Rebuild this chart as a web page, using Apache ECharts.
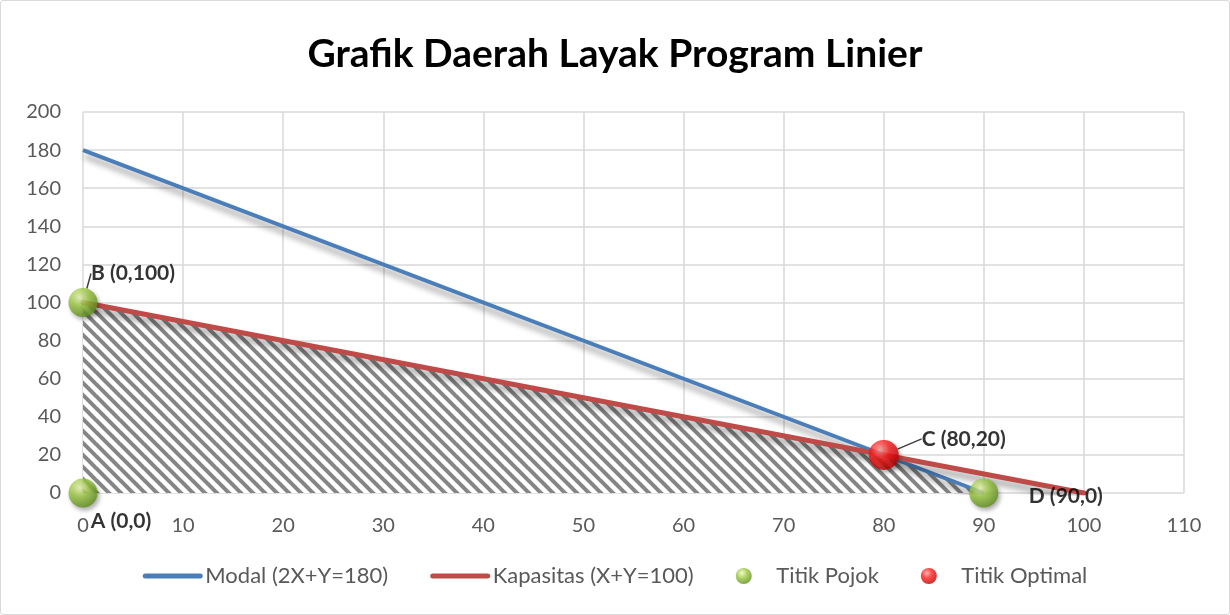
<!DOCTYPE html>
<html>
<head>
<meta charset="utf-8">
<script src="https://cdn.jsdelivr.net/npm/echarts@6/dist/echarts.min.js"></script>
<style>
  html, body { margin: 0; padding: 0; background: #fff; }
  #chart { width: 1228px; height: 613px; border: 1px solid #d9d9d9; border-radius: 3px; }
</style>
</head>
<body>
<div id="chart"></div>
<script>
// data
const modalLine = [[0, 180], [90, 0]];
const kapasitasLine = [[0, 100], [100, 0]];
const daerahLayak = [[0, 100], [80, 20], [90, 0]];
const titikPojok = [[0, 0], [0, 100], [90, 0]];
const pojokLabels = ["A (0,0)", "B (0,100)", "D (90,0)"];
const pojokLeader = [false, true, false];
const titikOptimal = [[80, 20]];
const optimalLabels = ["C (80,20)"];

const font = "Lato, 'Open Sans', sans-serif";

// hatch pattern for the feasible area
function hatch() {
  const s = 12;
  const c = document.createElement("canvas");
  c.width = s; c.height = s;
  const ctx = c.getContext("2d");
  ctx.fillStyle = "#ffffff";
  ctx.fillRect(0, 0, s, s);
  ctx.strokeStyle = "#858585";
  ctx.lineWidth = 4;
  for (let k = -1; k <= 1; k++) {
    ctx.beginPath();
    ctx.moveTo(k * s - 2, -2);
    ctx.lineTo(k * s + s + 2, s + 2);
    ctx.stroke();
  }
  return c;
}

function sphere(light, mid, dark) {
  return new echarts.graphic.RadialGradient(0.38, 0.32, 0.7, [
    { offset: 0, color: light },
    { offset: 0.45, color: mid },
    { offset: 1, color: dark }
  ]);
}

const greenBall = sphere("#eefab8", "#9cc842", "#5f8d1c");
const redBall = sphere("#ffa0a0", "#ff1a1a", "#b80000");

const labelStyle = { show: true, color: "#000", fontFamily: font, fontWeight: "bold", fontSize: 21 };
const leader = { show: true, lineStyle: { color: "#404040", width: 1.5 } };

const chart = echarts.init(document.getElementById("chart"));
chart.setOption({
  animation: false,
  title: {
    text: "Grafik Daerah Layak Program Linier",
    left: "center",
    top: 29,
    textStyle: { fontFamily: font, fontWeight: "bold", fontSize: 39, color: "#000" }
  },
  grid: { left: 82, right: 45, top: 111, bottom: 121 },
  xAxis: {
    type: "value", min: 0, max: 110, interval: 10,
    axisLine: { show: false },
    axisTick: { show: false },
    axisLabel: { color: "#595959", fontFamily: font, fontSize: 20, margin: 23 },
    splitLine: { lineStyle: { color: "#d9d9d9", width: 1.5 } }
  },
  yAxis: {
    type: "value", min: 0, max: 200, interval: 20,
    axisLine: { show: false },
    axisTick: { show: false },
    axisLabel: { color: "#595959", fontFamily: font, fontSize: 20, margin: 22 },
    splitLine: { lineStyle: { color: "#d9d9d9", width: 1.5 } }
  },
  legend: {
    bottom: 22,
    left: "center",
    itemGap: 42,
    itemWidth: 55,
    itemHeight: 16,
    textStyle: { color: "#595959", fontFamily: font, fontSize: 22 },
    data: [
      { name: "Modal (2X+Y=180)", itemStyle: { opacity: 0 }, lineStyle: { width: 5, cap: "round" } },
      { name: "Kapasitas (X+Y=100)", itemStyle: { opacity: 0 }, lineStyle: { width: 5, cap: "round" } },
      "Titik Pojok",
      "Titik Optimal"
    ]
  },
  series: [
    {
      name: "Daerah Layak",
      type: "line",
      data: daerahLayak,
      symbol: "none",
      silent: true,
      lineStyle: { width: 0 },
      areaStyle: {
        color: { image: hatch(), repeat: "repeat" },
        opacity: 1,
        shadowColor: "rgba(0,0,0,0.3)",
        shadowBlur: 6,
        shadowOffsetY: 3
      },
      z: 1
    },
    {
      name: "Modal (2X+Y=180)",
      type: "line",
      data: modalLine,
      symbol: "none",
      itemStyle: { color: "#4a7ebb" },
      lineStyle: {
        color: "#4a7ebb", width: 4,
        shadowColor: "rgba(0,0,0,0.4)", shadowBlur: 6, shadowOffsetX: 2, shadowOffsetY: 6
      },
      z: 3
    },
    {
      name: "Kapasitas (X+Y=100)",
      type: "line",
      data: kapasitasLine,
      symbol: "none",
      itemStyle: { color: "#be4b48" },
      lineStyle: {
        color: "#be4b48", width: 5, cap: "round",
        shadowColor: "rgba(0,0,0,0.4)", shadowBlur: 6, shadowOffsetX: 2, shadowOffsetY: 6
      },
      z: 3
    },
    {
      name: "Titik Pojok",
      type: "scatter",
      symbolSize: 29,
      itemStyle: {
        color: greenBall,
        shadowColor: "rgba(0,0,0,0.4)", shadowBlur: 4, shadowOffsetX: 2, shadowOffsetY: 3
      },
      data: titikPojok.map((p, i) => ({
        value: p,
        name: pojokLabels[i],
        labelLine: pojokLeader[i] ? leader : { show: false }
      })),
      label: Object.assign({}, labelStyle, { formatter: "{b}", position: "inside" }),
      labelLayout: function (params) {
        if (params.dataIndex === 0) return { dx: 38, dy: 28 };
        if (params.dataIndex === 1) return { dx: 50, dy: -29 };
        return { dx: 82, dy: 3 };
      },
      z: 5
    },
    {
      name: "Titik Optimal",
      type: "scatter",
      symbolSize: 30,
      itemStyle: {
        color: redBall,
        shadowColor: "rgba(0,0,0,0.4)", shadowBlur: 4, shadowOffsetX: 2, shadowOffsetY: 3
      },
      data: titikOptimal.map((p, i) => ({ value: p, name: optimalLabels[i], labelLine: leader })),
      label: Object.assign({}, labelStyle, { formatter: "{b}", position: "inside" }),
      labelLayout: { dx: 80, dy: -16 },
      z: 5
    }
  ]
});
</script>
</body>
</html>
